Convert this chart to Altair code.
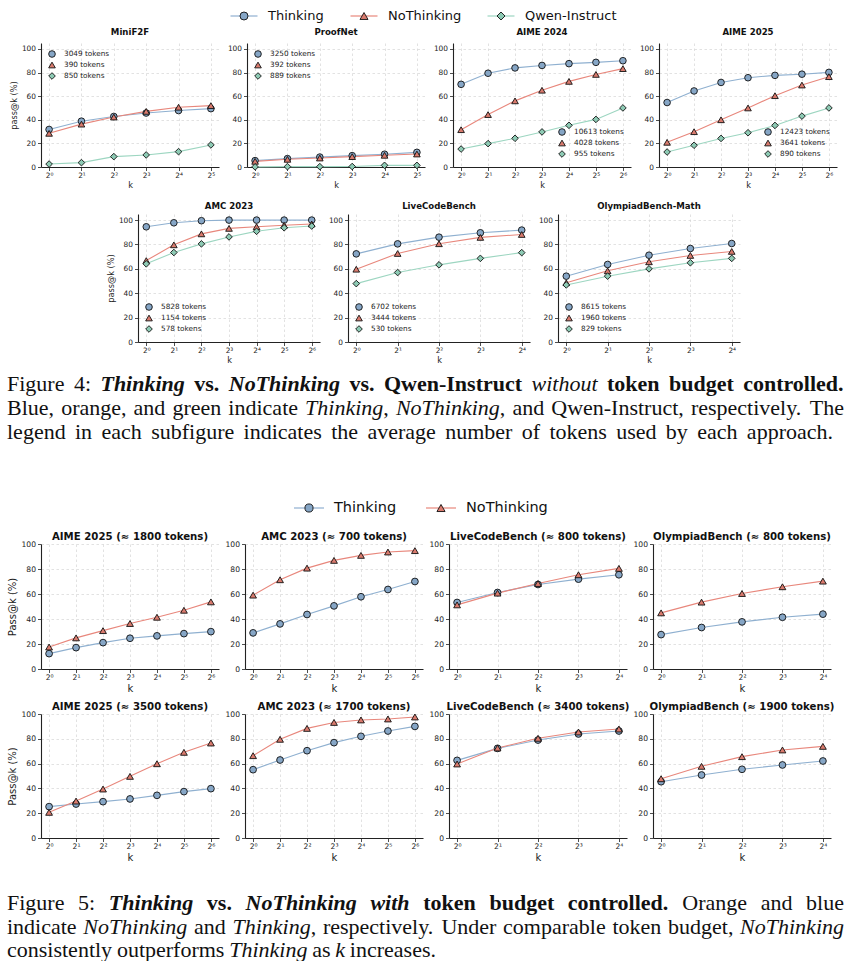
import re
import altair as alt
import pandas as pd

# ---------------- series / styling ----------------
SERIES_F4 = ["Thinking", "NoThinking", "Qwen-Instruct"]
SERIES_F5 = ["Thinking", "NoThinking"]
LINE_COLORS = ["#8fb0d0", "#e8877c", "#9dd6c1"]
FILL_COLORS = ["#86a6c6", "#d97a6d", "#8dcab4"]
SHAPES = ["circle", "triangle-up", "diamond"]

# ---------------- Figure 4 data (pass@k %, k = 2^0 ...) ----------------
minif2f_thinking = [31.8, 38.8, 42.8, 45.7, 47.8, 49.4]
minif2f_nothinking = [28.5, 36.3, 42.3, 47.1, 50.6, 52.0]
minif2f_qwen = [2.5, 3.7, 8.8, 10.2, 13.0, 18.7]
minif2f_tokens = ["3049 tokens", "390 tokens", "850 tokens"]

proofnet_thinking = [5.4, 7.1, 8.4, 9.6, 10.8, 12.4]
proofnet_nothinking = [4.8, 6.5, 7.6, 8.8, 9.9, 11.0]
proofnet_qwen = [0.1, 0.3, 0.3, 0.4, 1.4, 1.4]
proofnet_tokens = ["3250 tokens", "392 tokens", "889 tokens"]

aime24_thinking = [70.0, 79.4, 83.9, 86.0, 87.5, 88.6, 90.0]
aime24_nothinking = [31.6, 44.4, 56.0, 65.0, 72.5, 78.4, 83.3]
aime24_qwen = [15.2, 19.8, 24.3, 29.7, 35.3, 40.3, 50.0]
aime24_tokens = ["10613 tokens", "4028 tokens", "955 tokens"]

aime25_thinking = [54.6, 64.4, 71.6, 75.6, 77.6, 78.6, 80.1]
aime25_nothinking = [20.9, 29.9, 40.0, 50.0, 60.4, 69.4, 76.5]
aime25_qwen = [12.7, 18.4, 24.2, 29.0, 35.2, 43.1, 50.0]
aime25_tokens = ["12423 tokens", "3641 tokens", "890 tokens"]

amc23_thinking = [94.5, 97.8, 99.5, 100.0, 100.0, 100.0, 100.0]
amc23_nothinking = [66.8, 79.7, 88.7, 93.2, 94.6, 95.8, 96.8]
amc23_qwen = [64.1, 73.4, 80.5, 86.2, 90.8, 93.7, 95.1]
amc23_tokens = ["5828 tokens", "1154 tokens", "578 tokens"]

lcb_thinking = [72.3, 80.5, 86.0, 89.6, 91.8]
lcb_nothinking = [59.7, 72.6, 80.6, 85.8, 88.2]
lcb_qwen = [47.9, 57.0, 63.3, 68.6, 73.3]
lcb_tokens = ["6702 tokens", "3444 tokens", "530 tokens"]

olym_thinking = [54.0, 63.6, 71.2, 76.7, 80.8]
olym_nothinking = [48.6, 58.4, 65.8, 71.0, 74.3]
olym_qwen = [46.8, 54.0, 60.0, 65.0, 68.6]
olym_tokens = ["8615 tokens", "1960 tokens", "829 tokens"]

# ---------------- Figure 5 data ----------------
f5_aime_1800_thinking = [12.3, 17.1, 21.1, 24.6, 26.5, 28.3, 29.9]
f5_aime_1800_nothinking = [17.6, 24.9, 30.7, 36.4, 41.4, 47.0, 53.7]
f5_amc_700_thinking = [28.9, 36.1, 43.6, 50.5, 57.8, 63.6, 70.0]
f5_amc_700_nothinking = [59.1, 71.4, 80.7, 86.9, 90.9, 93.6, 94.7]
f5_lcb_800_thinking = [53.2, 61.2, 67.6, 71.9, 75.4]
f5_lcb_800_nothinking = [51.3, 60.7, 68.4, 75.4, 80.5]
f5_olym_800_thinking = [27.5, 33.2, 37.7, 41.4, 43.9]
f5_olym_800_nothinking = [44.9, 53.5, 60.4, 65.8, 70.3]

f5_aime_3500_thinking = [25.3, 27.4, 29.3, 31.5, 34.4, 37.4, 39.8]
f5_aime_3500_nothinking = [20.7, 29.8, 39.5, 49.7, 59.9, 69.1, 76.6]
f5_amc_1700_thinking = [55.1, 62.9, 70.4, 76.9, 82.0, 86.3, 90.0]
f5_amc_1700_nothinking = [66.4, 79.6, 88.4, 93.2, 95.2, 96.0, 97.6]
f5_lcb_3400_thinking = [62.6, 72.3, 79.0, 83.9, 86.3]
f5_lcb_3400_nothinking = [59.7, 72.6, 80.4, 85.5, 87.9]
f5_olym_1900_thinking = [45.4, 50.8, 55.4, 58.9, 62.1]
f5_olym_1900_nothinking = [47.8, 57.8, 65.6, 71.0, 73.9]

Y_TICKS = [0, 20, 40, 60, 80, 100]

# ---------------- captions (markup: {b:..} bold, {i:..} italic, {bi:..} bold italic) ----------------
cap4_lines = [
    "Figure 4: {bi:Thinking} {b:vs.} {bi:NoThinking} {b:vs.} {b:Qwen-Instruct} {i:without} {b:token} {b:budget} {b:controlled.}",
    "Blue, orange, and green indicate {i:Thinking}, {i:NoThinking}, and Qwen-Instruct, respectively. The",
    "legend in each subfigure indicates the average number of tokens used by each approach.",
]
cap5_lines = [
    "Figure 5: {bi:Thinking} {b:vs.} {bi:NoThinking} {bi:with} {b:token} {b:budget} {b:controlled.} Orange and blue",
    "indicate {i:NoThinking} and {i:Thinking}, respectively. Under comparable token budget, {i:NoThinking}",
    "consistently outperforms {i:Thinking} as {i:k} increases.",
]

# ---------------- styles ----------------
ST4A = dict(tick=7.4, axtitle=8.2, title=8.6, title_offset=6, ms=44, ytpad=3, xtpad=3.5, xlpad=0.5, legfont=7.3)
ST4B = dict(ST4A, title_offset=3)
ST5 = dict(tick=7.6, axtitle=10, title=10.2, title_offset=-2, ms=46, ytpad=4, xtpad=2, xlpad=1, legfont=7.3)
SUP = "['\u2070','\u00b9','\u00b2','\u00b3','\u2074','\u2075','\u2076']"
RES = dict(color="independent", fill="independent", shape="independent", stroke="independent")
ORIGIN = 40  # page x of the first plot area (all views share this origin)


def edge_rule(h, x=0):
    # invisible (white) rule that fixes the extent of a helper view for the layout
    return alt.Chart(pd.DataFrame({"a": [0]})).mark_rule(color="white", strokeWidth=1).encode(
        x=alt.value(x), y=alt.value(0), y2=alt.value(h))


def spacer(h, w=1):
    return edge_rule(h).properties(width=w, height=h)


def panel_legend(orient, font):
    return alt.Legend(orient=orient, title=None, labelFontSize=font, labelFont="DejaVu Sans",
                      labelColor="#222", symbolSize=44, symbolStrokeWidth=0.9, symbolOpacity=1,
                      rowPadding=0, labelOffset=8, offset=7, padding=0)


def panel(title, vals, names, labels, legend_orient, w, h, ymax, st, ytitle):
    k = len(vals)
    n = len(vals[0]) - 1
    rows = []
    for si in range(k):
        for e, v in enumerate(vals[si]):
            rows.append({"e": e, "v": v, "s": names[si], "lab": labels[si]})
    df = pd.DataFrame(rows)
    x = alt.X("e:Q", scale=alt.Scale(domain=[-0.05 * n, 1.05 * n], nice=False, zero=False),
              axis=alt.Axis(values=list(range(n + 1)), labelExpr="'2' + " + SUP + "[datum.value]",
                            title="k", labelFontSize=st["tick"], titleFontSize=st["axtitle"],
                            labelPadding=st["xlpad"], titlePadding=st["xtpad"],
                            labelFlush=False, labelOverlap=False))
    yaxis = dict(values=Y_TICKS, labelFontSize=st["tick"], titleFontSize=st["axtitle"],
                 titlePadding=st["ytpad"], labelFlush=False, labelOverlap=False)
    yaxis["title"] = ytitle if ytitle else None
    y = alt.Y("v:Q", scale=alt.Scale(domain=[0, ymax], nice=False, zero=True), axis=alt.Axis(**yaxis))
    base = alt.Chart(df)
    line = base.mark_line(strokeWidth=1.1).encode(
        x=x, y=y,
        color=alt.Color("s:N", scale=alt.Scale(domain=names, range=LINE_COLORS[:k]), legend=None))
    leg = panel_legend(legend_orient, st["legfont"]) if legend_orient else None
    pts = base.mark_point(filled=True, size=st["ms"], strokeWidth=0.9, opacity=1).encode(
        x=x, y=y,
        fill=alt.Fill("lab:N", scale=alt.Scale(domain=labels, range=FILL_COLORS[:k]), legend=leg),
        stroke=alt.Stroke("lab:N", scale=alt.Scale(domain=labels, range=["#111"] * k), legend=leg),
        shape=alt.Shape("lab:N", scale=alt.Scale(domain=labels, range=SHAPES[:k]), legend=leg))
    return alt.layer(line, pts).properties(
        width=w, height=h,
        title=alt.TitleParams(text=title, fontSize=st["title"], fontWeight="bold", font="DejaVu Sans",
                              color="#111", offset=st["title_offset"], anchor="middle"))


def top_legend(names, xs_page, y, h, font_size, dx, line_len, ms):
    k = len(names)
    xs_rel = [v - ORIGIN for v in xs_page]
    df = pd.DataFrame({"s": names, "px": xs_rel,
                       "pl": [v - line_len / 2 for v in xs_rel],
                       "pr": [v + line_len / 2 for v in xs_rel]})
    X = alt.X("px:Q", scale=None, axis=None)
    Y = alt.value(y)
    seg = alt.Chart(df).mark_rule(strokeWidth=1.2).encode(
        x=alt.X("pl:Q", scale=None, axis=None), x2=alt.X2("pr:Q"), y=Y,
        color=alt.Color("s:N", scale=alt.Scale(domain=names, range=LINE_COLORS[:k]), legend=None))
    mk = alt.Chart(df).mark_point(filled=True, size=ms, stroke="#111", strokeWidth=0.9, opacity=1).encode(
        x=X, y=Y,
        fill=alt.Fill("s:N", scale=alt.Scale(domain=names, range=FILL_COLORS[:k]), legend=None),
        shape=alt.Shape("s:N", scale=alt.Scale(domain=names, range=SHAPES[:k]), legend=None))
    tx = alt.Chart(df).mark_text(align="left", baseline="middle", dx=dx, fontSize=font_size,
                                 font="DejaVu Sans", color="#111").encode(x=X, y=Y, text="s:N")
    return alt.layer(edge_rule(h, 10), seg, mk, tx).properties(width=1, height=h)


# Times-like advance widths (per 1000 em) for caption layout
def _tab(lower, upper):
    t = dict(zip("abcdefghijklmnopqrstuvwxyz", lower))
    t.update(dict(zip("ABCDEFGHIJKLMNOPQRSTUVWXYZ", upper)))
    t.update({" ": 250, ",": 250, ".": 250, ":": 278, "-": 333, "(": 333, ")": 333})
    t.update({c: 500 for c in "0123456789"})
    return t


W_REG = _tab([444, 500, 444, 500, 444, 333, 500, 500, 278, 278, 500, 278, 778, 500, 500, 500, 500,
              333, 389, 278, 500, 500, 722, 500, 500, 444],
             [722, 667, 667, 722, 611, 556, 722, 722, 333, 389, 722, 611, 889, 722, 722, 556, 722,
              667, 556, 611, 722, 722, 944, 722, 722, 611])
W_BOLD = _tab([500, 556, 444, 556, 444, 333, 500, 556, 278, 333, 556, 278, 833, 556, 500, 556, 556,
               444, 389, 333, 556, 500, 722, 500, 500, 444],
              [722, 667, 722, 722, 667, 611, 778, 778, 389, 500, 778, 667, 944, 722, 778, 611, 778,
               722, 556, 667, 722, 722, 1000, 722, 722, 667])
W_ITAL = _tab([500, 500, 444, 500, 444, 278, 500, 500, 278, 278, 444, 278, 722, 500, 500, 500, 500,
               389, 389, 278, 500, 444, 667, 444, 444, 389],
              [611, 611, 667, 722, 611, 611, 722, 722, 333, 444, 667, 556, 833, 667, 722, 611, 722,
               611, 500, 556, 722, 611, 833, 611, 556, 556])
W_BI = _tab([500, 500, 444, 500, 444, 333, 500, 556, 278, 278, 500, 278, 778, 556, 500, 500, 500,
             389, 389, 278, 556, 444, 667, 500, 444, 389],
            [667, 667, 667, 722, 667, 667, 722, 778, 389, 500, 667, 611, 889, 722, 722, 611, 722,
             667, 556, 611, 722, 667, 889, 667, 611, 611])
W_TAB = {"n": W_REG, "b": W_BOLD, "i": W_ITAL, "bi": W_BI}
CAP_FS = 22


def tw(s, st):
    tab = W_TAB[st]
    return sum(tab.get(c, 500) for c in s) / 1000.0 * CAP_FS


def parse_word(tok):
    out = []
    for m in re.finditer(r"\{(\w+):([^}]*)\}|([^{]+)", tok):
        if m.group(3):
            out.append((m.group(3), "n"))
        else:
            out.append((m.group(2), m.group(1)))
    return out


def caption(lines, ys, ends, x_start, h):
    rows = []
    for line, yv, xend in zip(lines, ys, ends):
        words = [parse_word(t) for t in line.split(" ")]
        widths = [sum(tw(t, s) for t, s in wd) for wd in words]
        gap = (xend - x_start - sum(widths)) / (len(words) - 1)
        gap = max(gap, 0.2 * CAP_FS)
        x = x_start
        for wd, ww in zip(words, widths):
            xx = x
            for t, s in wd:
                rows.append({"x": xx - ORIGIN, "y": yv, "t": t, "st": s})
                xx += tw(t, s)
            x += ww + gap
    df = pd.DataFrame(rows)
    layers = [edge_rule(h, -ORIGIN)]
    for s, fw, fst in [("n", "normal", "normal"), ("b", "bold", "normal"),
                       ("i", "normal", "italic"), ("bi", "bold", "italic")]:
        layers.append(alt.Chart(df).transform_filter(alt.datum.st == s).mark_text(
            align="left", baseline="middle", font="Liberation Serif", fontSize=CAP_FS,
            fontWeight=fw, fontStyle=fst, color="#111").encode(
            x=alt.X("x:Q", scale=None, axis=None), y=alt.Y("y:Q", scale=None, axis=None), text="t:N"))
    return alt.layer(*layers).properties(width=1, height=h)


# ---------------- Figure 4 ----------------
r1 = [
    panel("MiniF2F", [minif2f_thinking, minif2f_nothinking, minif2f_qwen], SERIES_F4, minif2f_tokens,
          "top-left", 178, 124, 105, ST4A, "pass@k (%)"),
    panel("ProofNet", [proofnet_thinking, proofnet_nothinking, proofnet_qwen], SERIES_F4, proofnet_tokens,
          "top-left", 178, 124, 105, ST4A, None),
    panel("AIME 2024", [aime24_thinking, aime24_nothinking, aime24_qwen], SERIES_F4, aime24_tokens,
          "bottom-right", 178, 124, 105, ST4A, None),
    panel("AIME 2025", [aime25_thinking, aime25_nothinking, aime25_qwen], SERIES_F4, aime25_tokens,
          "bottom-right", 178, 124, 105, ST4A, None),
]
r2 = [
    spacer(128, 137 - ORIGIN - 28),
    panel("AMC 2023", [amc23_thinking, amc23_nothinking, amc23_qwen], SERIES_F4, amc23_tokens,
          "bottom-left", 182, 128, 105, ST4B, "pass@k (%)"),
    panel("LiveCodeBench", [lcb_thinking, lcb_nothinking, lcb_qwen], SERIES_F4, lcb_tokens,
          "bottom-left", 182, 128, 105, ST4B, None),
    panel("OlympiadBench-Math", [olym_thinking, olym_nothinking, olym_qwen], SERIES_F4, olym_tokens,
          "bottom-left", 182, 128, 105, ST4B, None),
]
row1 = alt.hconcat(*r1, spacing=28, bounds="flush").resolve_scale(**RES)
row2 = alt.hconcat(*r2, spacing=28, bounds="flush").resolve_scale(**RES)

# ---------------- Figure 5 ----------------
L5 = ["Thinking", "NoThinking"]
r3 = [
    panel("AIME 2025 (\u2248 1800 tokens)", [f5_aime_1800_thinking, f5_aime_1800_nothinking], SERIES_F5, L5,
          None, 178, 125, 100, ST5, "Pass@k (%)"),
    panel("AMC 2023 (\u2248 700 tokens)", [f5_amc_700_thinking, f5_amc_700_nothinking], SERIES_F5, L5,
          None, 178, 125, 100, ST5, None),
    panel("LiveCodeBench (\u2248 800 tokens)", [f5_lcb_800_thinking, f5_lcb_800_nothinking], SERIES_F5, L5,
          None, 178, 125, 100, ST5, None),
    panel("OlympiadBench (\u2248 800 tokens)", [f5_olym_800_thinking, f5_olym_800_nothinking], SERIES_F5, L5,
          None, 178, 125, 100, ST5, None),
]
r4 = [
    panel("AIME 2025 (\u2248 3500 tokens)", [f5_aime_3500_thinking, f5_aime_3500_nothinking], SERIES_F5, L5,
          None, 178, 124, 100, ST5, "Pass@k (%)"),
    panel("AMC 2023 (\u2248 1700 tokens)", [f5_amc_1700_thinking, f5_amc_1700_nothinking], SERIES_F5, L5,
          None, 178, 124, 100, ST5, None),
    panel("LiveCodeBench (\u2248 3400 tokens)", [f5_lcb_3400_thinking, f5_lcb_3400_nothinking], SERIES_F5, L5,
          None, 178, 124, 100, ST5, None),
    panel("OlympiadBench (\u2248 1900 tokens)", [f5_olym_1900_thinking, f5_olym_1900_nothinking], SERIES_F5, L5,
          None, 178, 124, 100, ST5, None),
]
row3 = alt.hconcat(*r3, spacing=26, bounds="flush").resolve_scale(**RES)
row4 = alt.hconcat(*r4, spacing=26, bounds="flush").resolve_scale(**RES)

# ---------------- legends & captions ----------------
leg4 = top_legend(SERIES_F4, [243, 363, 500], 15, 26, 13, 24, 27, 64)
leg5 = top_legend(SERIES_F5, [308, 440], 47, 69, 14.5, 25, 30, 66)
cap4 = caption(cap4_lines, [17.5, 41.5, 65.5], [843, 843, 832], 6, 93.5)
cap5 = caption(cap5_lines, [39, 63, 85.5], [843, 843, 435], 6, 92)

chart = alt.vconcat(leg4, row1, spacer(10.5), row2, cap4, leg5, row3, spacer(5), row4, cap5,
                    spacing=0,
                    padding={"left": 0, "top": 0, "right": 0, "bottom": 0}).resolve_scale(**RES)
chart = chart.configure(background="white").configure_view(stroke=None).configure_axis(
    domainColor="#222", domainWidth=1.1, tickColor="#222", tickWidth=0.8, tickSize=3.5,
    labelColor="#222", titleColor="#222", labelFont="DejaVu Sans", titleFont="DejaVu Sans",
    titleFontWeight="normal", gridColor="#d6d6d6", gridDash=[2.5, 2.5], gridWidth=0.7, labelPadding=2)

chart.save("out.html", embed_options={"renderer": "svg", "actions": False})
